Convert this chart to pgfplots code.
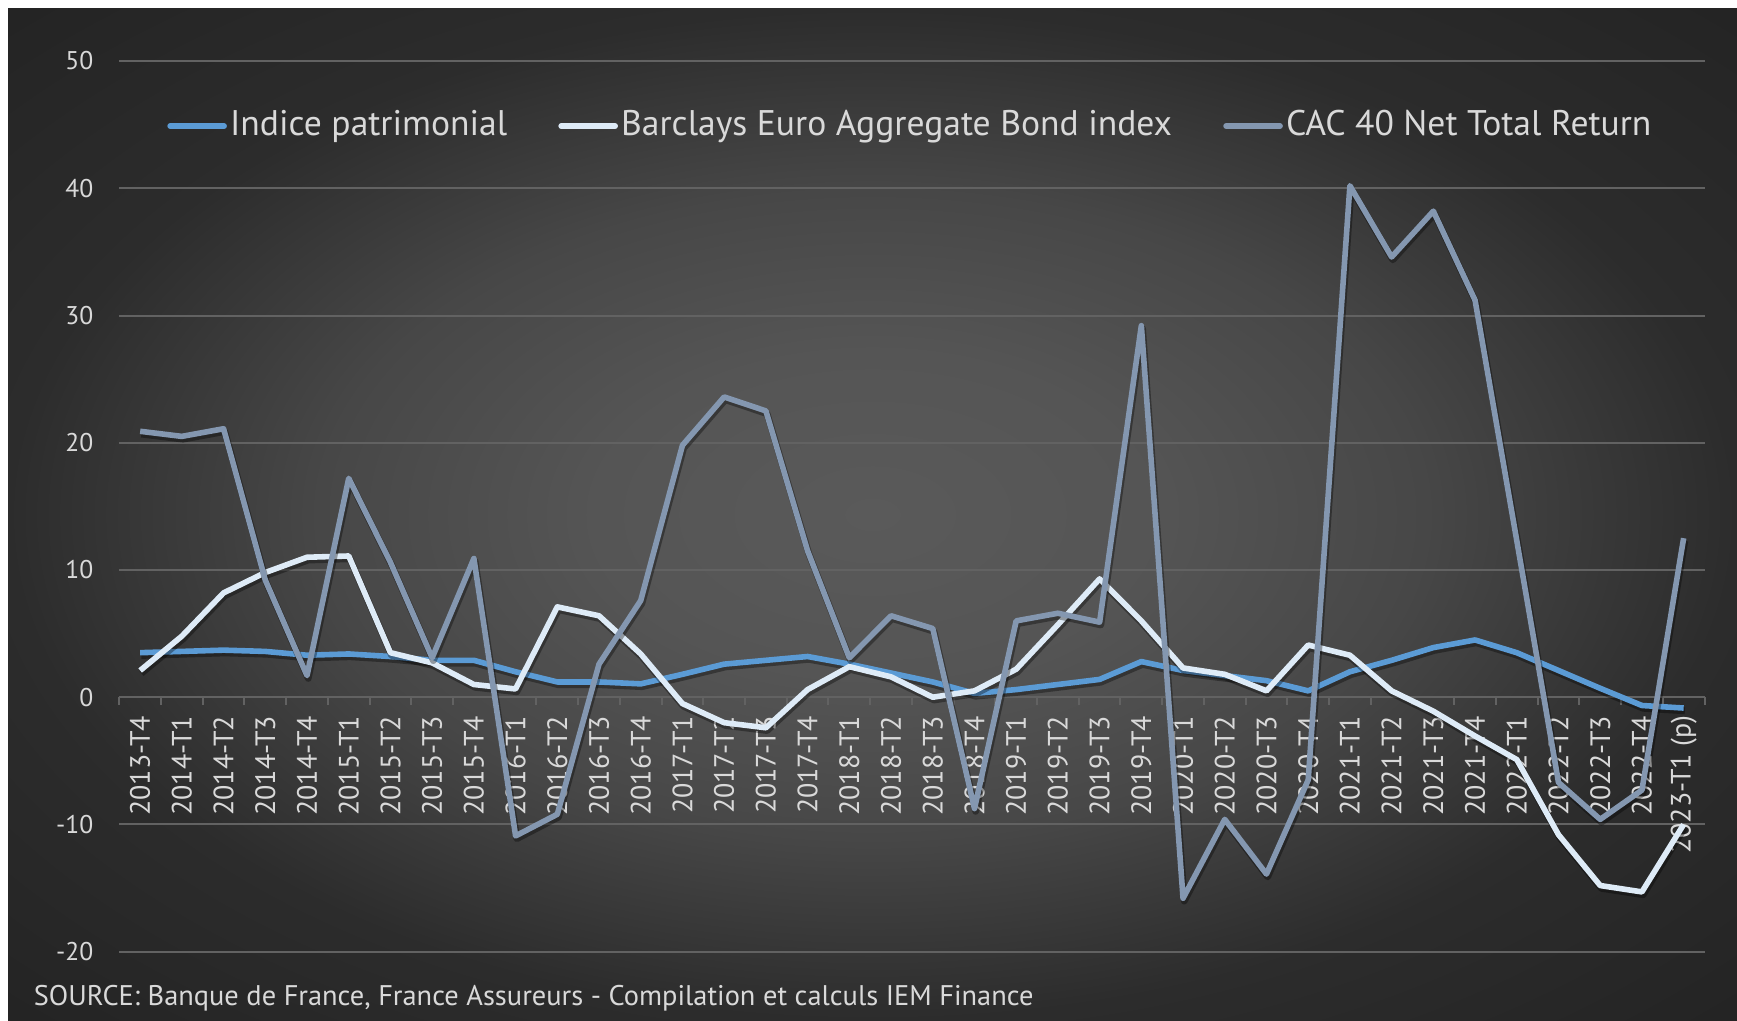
\documentclass[border=0pt]{standalone}
\usepackage{pgfplots}
\pgfplotsset{compat=1.18}
\usepackage{pgfplotstable}
\usepackage{fontspec}
\setmainfont{PT Sans}
\definecolor{cIndice}{HTML}{5B9BD5}
\definecolor{cBond}{HTML}{DEEBF7}
\definecolor{cCAC}{HTML}{8497B0}
\definecolor{gridc}{HTML}{626262}
\definecolor{txt}{HTML}{D9D9D9}
\definecolor{s0}{HTML}{5A5A5A}
\definecolor{s1}{HTML}{555555}
\definecolor{s2}{HTML}{474747}
\definecolor{s3}{HTML}{2C2C2C}
\definecolor{s4}{HTML}{242424}
\pgfdeclareradialshading{bgshade}{\pgfpoint{0bp}{0bp}}{color(0bp)=(s0); color(8bp)=(s1); color(16bp)=(s2); color(25bp)=(s3); color(35bp)=(s4); color(50bp)=(s4)}

\pgfplotstableread{
idx indice bond cac
0 3.5 2.1 20.9
1 3.6 4.8 20.5
2 3.7 8.2 21.1
3 3.6 9.8 9.2
4 3.3 11.0 1.7
5 3.4 11.1 17.2
6 3.2 3.5 10.6
7 2.9 2.7 3.1
8 2.9 1.0 10.9
9 2.0 0.65 -10.9
10 1.2 7.1 -9.2
11 1.2 6.4 2.6
12 1.05 3.4 7.6
13 1.8 -0.5 19.8
14 2.6 -2.0 23.6
15 2.9 -2.4 22.5
16 3.2 0.6 11.5
17 2.6 2.4 3.1
18 1.9 1.6 6.4
19 1.2 0.0 5.4
20 0.3 0.5 -8.75
21 0.6 2.2 6.0
22 1.0 5.7 6.6
23 1.4 9.3 5.9
24 2.8 6.0 29.2
25 2.1 2.3 -15.8
26 1.7 1.8 -9.6
27 1.3 0.5 -13.9
28 0.5 4.1 -6.5
29 2.0 3.3 40.2
30 2.9 0.5 34.6
31 3.9 -1.1 38.2
32 4.5 -3.05 31.2
33 3.5 -4.9 12.3
34 2.1 -10.8 -6.7
35 0.7 -14.8 -9.6
36 -0.65 -15.3 -7.3
37 -0.85 -10.0 12.5
}\data

\begin{document}
\begin{tikzpicture}
\useasboundingbox (0,0) rectangle (434.25pt,255pt);
\fill[white] (0,0) rectangle (434.25pt,255pt);
\shade[shading=bgshade] (2pt,0pt) rectangle (434.25pt,252.75pt);
\begin{axis}[
  at={(29.825pt,17.075pt)}, anchor=south west,
  scale only axis, width=396.3pt, height=222.675pt,
  xmin=-0.5, xmax=37.5, ymin=-20, ymax=50,
  axis x line=middle, axis y line=left,
  x axis line style={-, draw=gridc, line width=0.5pt},
  y axis line style={draw=none},
  hide obscured x ticks=false, hide obscured y ticks=false,
  xtick={0,...,37},
  xticklabels={2013-T4,2014-T1,2014-T2,2014-T3,2014-T4,2015-T1,2015-T2,2015-T3,2015-T4,2016-T1,2016-T2,2016-T3,2016-T4,2017-T1,2017-T2,2017-T3,2017-T4,2018-T1,2018-T2,2018-T3,2018-T4,2019-T1,2019-T2,2019-T3,2019-T4,2020-T1,2020-T2,2020-T3,2020-T4,2021-T1,2021-T2,2021-T3,2021-T4,2022-T1,2022-T2,2022-T3,2022-T4,2023-T1 (p)},
  minor xtick={-0.5,0.5,...,37.5},
  ytick={-20,-10,0,10,20,30,40,50},
  yticklabels={-20,-10,0,10,20,30,40,50},
  ymajorgrids, grid style={draw=gridc, line width=0.5pt},
  major tick length=0pt, minor tick length=2pt,
  tick align=outside,
  minor tick style={draw=gridc, line width=0.5pt},
  major tick style={draw=none},
  xticklabel style={rotate=90, anchor=east, inner sep=0pt, font=\fontsize{7}{8}\selectfont, text=txt},
  yticklabel style={anchor=east, inner sep=0pt, font=\fontsize{6.4}{7}\selectfont, text=txt},
  xticklabel shift=4.5pt, yticklabel shift=6.3pt,
  legend columns=3,
  legend style={at={(0.0298,0.927)}, anchor=west, draw=none, fill=none, inner sep=0pt,
    text=txt, font=\fontsize{8.9}{10}\selectfont,
    nodes={inner sep=0.8pt},
    /tikz/every even column/.append style={column sep=12pt}},
  legend image code/.code={\draw[#1, line cap=round] (0pt,0pt) -- (13.5pt,0pt);},
  legend cell align=left,
  clip=false,
  shadow/.style={black, opacity=0.35, line width=1.7pt, line join=round, yshift=-0.7pt, xshift=0.3pt, forget plot},
]
\addplot[shadow] table[x=idx,y=indice]{\data};
\addplot[cIndice, line width=1.4pt, line join=round] table[x=idx,y=indice]{\data};
\addlegendentry{Indice patrimonial}
\addplot[shadow] table[x=idx,y=bond]{\data};
\addplot[cBond, line width=1.4pt, line join=round] table[x=idx,y=bond]{\data};
\addlegendentry{Barclays Euro Aggregate Bond index}
\addplot[shadow] table[x=idx,y=cac]{\data};
\addplot[cCAC, line width=1.4pt, line join=round] table[x=idx,y=cac]{\data};
\addlegendentry{CAC 40 Net Total Return}
\end{axis}
\node[anchor=base west, text=txt, font=\fontsize{7.1}{8}\selectfont, inner sep=0pt] at (8.25pt,3.75pt) {SOURCE: Banque de France, France Assureurs - Compilation et calculs IEM Finance};
\end{tikzpicture}
\end{document}
